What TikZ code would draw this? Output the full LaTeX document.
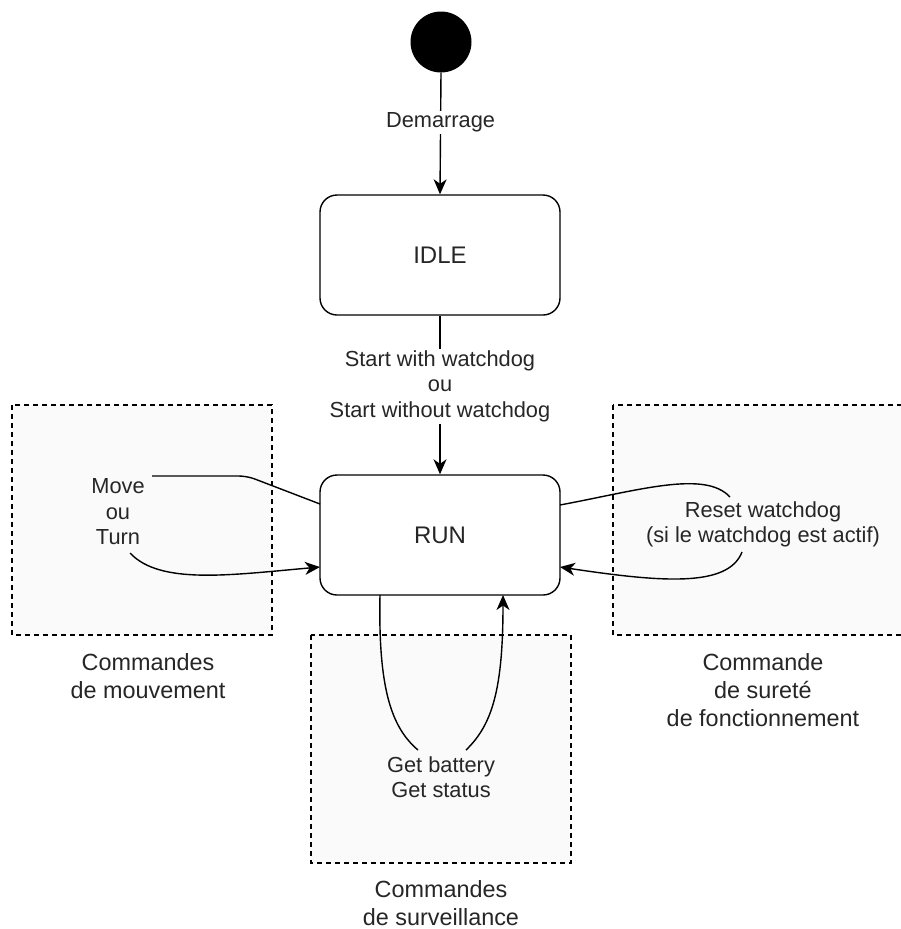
\documentclass[tikz,border=0pt]{standalone}
\usepackage{fontspec}
\setmainfont{Liberation Sans}
\usetikzlibrary{arrows.meta}
\begin{document}
\begin{tikzpicture}[x=1pt,y=-1pt,
  every node/.style={text=black!85},
  state/.style={draw=black, line width=1.4pt, rounded corners=17pt, minimum width=240pt, minimum height=120pt, font=\fontsize{24}{28}\selectfont, fill=white},
  elabel/.style={fill=white, inner sep=2pt, align=center, font=\fontsize{21.8}{25.5}\selectfont},
  flabel/.style={inner sep=1pt, align=center, font=\fontsize{21.8}{25.5}\selectfont},
  glabel/.style={align=center, font=\fontsize{23.4}{28}\selectfont},
  group/.style={draw=black, line width=1.1pt, dash pattern=on 5pt off 4pt, fill=black!2},
  conn/.style={draw=black, line width=1.4pt},
  arr/.style={conn, -{Stealth[length=15pt,width=13pt,inset=4.5pt]}}
]
\useasboundingbox (0,0) rectangle (901,929);
\fill[white] (0,0) rectangle (901,929);

% groups
\path[group] (12,405) rectangle (272,635);
\path[group] (613,405) rectangle (910,635);
\path[group] (311,635) rectangle (571,863);

% states
\node[circle, fill=black, minimum size=61pt, inner sep=0pt] (init) at (441,42) {};
\node[state] (idle) at (440,255) {IDLE};
\node[state] (run) at (440,535) {RUN};

% init -> idle
\draw[arr] (init.south) -- (idle.north) node[elabel, pos=0.41] (dem) {Demarrage};
% idle -> run
\draw[arr] (idle.south) -- (run.north) node[elabel, pos=0.445] (st) {Start with watchdog\\ou\\Start without watchdog};

% left loop
\node[flabel] (mv) at (118,512) {Move\\ou\\Turn};
\coordinate (l1) at (320,504);
\coordinate (l2) at (152,476);
\coordinate (l3) at (130,553);
\coordinate (l4) at (320,567);
\draw[conn, rounded corners=8pt] (l1) -- (247,476) -- (l2);
\draw[arr] (l3) .. controls (160,585) and (230,575) .. (l4);

% right loop
\node[flabel] (rw) at (763,524.5) {Reset watchdog\\(si le watchdog est actif)};
\coordinate (r1) at (560,505);
\coordinate (r2) at (730,497);
\coordinate (r3) at (742,552);
\coordinate (r4) at (560,567);
\draw[conn] (r1) .. controls (640,490) and (705,470) .. (r2);
\draw[arr] (r3) .. controls (728,588) and (660,582) .. (r4);

% bottom loop
\node[flabel] (gb) at (441,777) {Get battery\\Get status};
\coordinate (b1) at (380,595);
\coordinate (b2) at (418,750);
\coordinate (b3) at (466,750);
\coordinate (b4) at (503,595);
\draw[conn] (b1) .. controls (378,690) and (392,728) .. (b2);
\draw[arr] (b3) .. controls (492,725) and (503,690) .. (b4);

% group labels
\node[glabel] (g1) at (148,676) {Commandes\\de mouvement};
\node[glabel] (g2) at (763,690) {Commande\\de sureté\\de fonctionnement};
\node[glabel] (g3) at (441,903) {Commandes\\de surveillance};
\end{tikzpicture}
\end{document}
